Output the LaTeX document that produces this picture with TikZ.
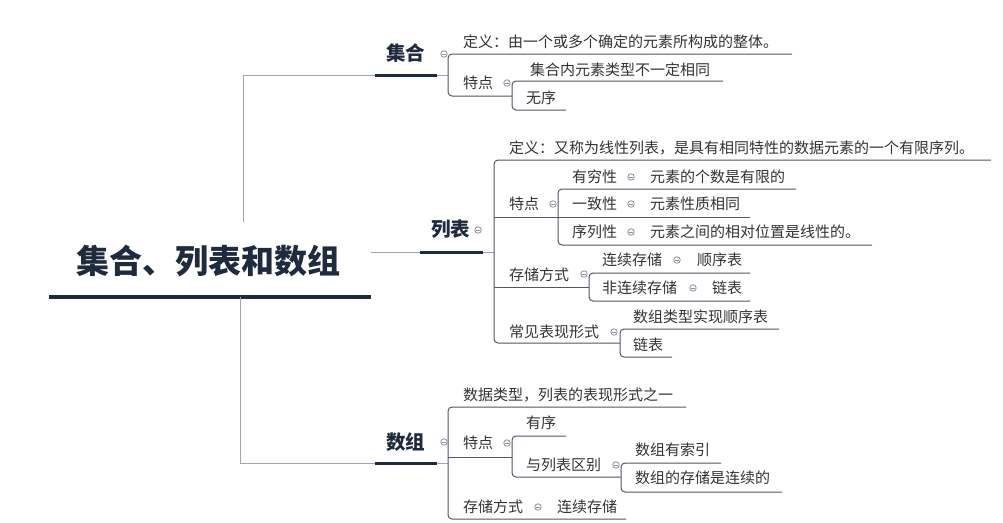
\documentclass[tikz,border=0pt]{standalone}
\usepackage{fontspec}
\newfontfamily\cjk{Noto Sans CJK SC}
\definecolor{navy}{HTML}{1F2A3F}
\definecolor{leaf}{HTML}{333333}
\definecolor{rootln}{HTML}{A0A6B1}
\definecolor{childln}{HTML}{4F5666}
\definecolor{dotc}{HTML}{8A909C}
\tikzset{
  roottxt/.style={anchor=west,inner sep=0pt,text=navy,font=\cjk\bfseries\fontsize{33}{36}\selectfont},
  maintxt/.style={anchor=west,inner sep=0pt,text=navy,font=\cjk\bfseries\fontsize{19.5}{22}\selectfont},
  leaftxt/.style={anchor=west,inner sep=0pt,text=leaf,font=\cjk\fontsize{15}{18}\selectfont},
  rootconn/.style={draw=rootln,line width=1pt},
  thickline/.style={draw=navy,line width=3pt},
  childconn/.style={draw=childln,line width=1pt,rounded corners=4pt},
  collapse/.style={circle,draw=dotc,fill=white,line width=0.8pt,minimum size=6.5pt,inner sep=0pt,
    path picture={\draw[dotc,line width=0.6pt]([xshift=-1.7pt]path picture bounding box.center)--([xshift=1.7pt]path picture bounding box.center);}}
}
\begin{document}
\begin{tikzpicture}[x=1pt,y=-1pt]
\useasboundingbox (0,0) rectangle (1003,522);
% root
\node[roottxt] (root) at (76,261) {集合、列表和数组};
\draw[navy,line width=3.5pt] (49,297) -- (371,297);
% root connectors
\draw[rootconn] (243,222) -- (243,75) -- (375,75);
\draw[rootconn] (371,252) -- (420,252);
\draw[rootconn] (240,297) -- (240,463) -- (375,463);
% level 1
\node[maintxt] (jihe) at (386,53) {集合};
\node[maintxt] (liebiao) at (431,229) {列表};
\node[maintxt] (shuzu) at (386,442) {数组};
\draw[thickline] (375,75) -- (437,75);
\draw[thickline] (420,252) -- (483,252);
\draw[thickline] (375,463) -- (437,463);
\draw[rootconn] (437,75) -- (448,75);
\draw[rootconn] (483,252) -- (494,252);
\draw[rootconn] (437,463) -- (448,463);

% ---------- 集合 ----------
\draw[childconn] (792,54) -- (448,54) -- (448,96) -- (512,96);
\draw[childconn] (723,81) -- (512,81) -- (512,110) -- (566,110);
\node[leaftxt] (jd) at (463,42) {定义：由一个或多个确定的元素所构成的整体。};
\node[leaftxt] (jt) at (463,83) {特点};
\node[leaftxt] (jt1) at (530,70) {集合内元素类型不一定相同};
\node[leaftxt] (jt2) at (526,98) {无序};
\node[collapse] (cj) at (444,54) {};
\node[collapse] (cjt) at (507,83) {};

% ---------- 列表 ----------
\draw[childconn] (991,160) -- (494,160) -- (494,343) -- (620,343);
\draw[childconn] (494,217) -- (558,217);
\draw[childconn] (494,287) -- (589,287);
\draw[childconn] (796,189) -- (558,189) -- (558,245) -- (872,245);
\draw[childconn] (558,217) -- (750,217);
\draw[childconn] (750,273) -- (589,273) -- (589,301) -- (750,301);
\draw[childconn] (779,329) -- (620,329) -- (620,357) -- (672,357);
\node[leaftxt] (ld) at (509,148) {定义：又称为线性列表，是具有相同特性的数据元素的一个有限序列。};
\node[leaftxt] (lt) at (509,204) {特点};
\node[leaftxt] (lt1) at (572,177) {有穷性};
\node[leaftxt] (lt1a) at (650,177) {元素的个数是有限的};
\node[leaftxt] (lt2) at (572,204) {一致性};
\node[leaftxt] (lt2a) at (650,204) {元素性质相同};
\node[leaftxt] (lt3) at (572,232) {序列性};
\node[leaftxt] (lt3a) at (650,232) {元素之间的相对位置是线性的。};
\node[leaftxt] (ls) at (509,275) {存储方式};
\node[leaftxt] (ls1) at (602,260) {连续存储};
\node[leaftxt] (ls1a) at (697,260) {顺序表};
\node[leaftxt] (ls2) at (602,288) {非连续存储};
\node[leaftxt] (ls2a) at (712,288) {链表};
\node[leaftxt] (lc) at (509,332) {常见表现形式};
\node[leaftxt] (lc1) at (633,317) {数组类型实现顺序表};
\node[leaftxt] (lc2) at (633,345) {链表};
\node[collapse] (cl) at (478,230) {};
\node[collapse] (clt) at (553,204) {};
\node[collapse] (clt1) at (631,177) {};
\node[collapse] (clt2) at (631,204) {};
\node[collapse] (clt3) at (631,232) {};
\node[collapse] (cls) at (584,274) {};
\node[collapse] (cls1) at (677,260) {};
\node[collapse] (cls2) at (693,288) {};
\node[collapse] (clc) at (614,332) {};

% ---------- 数组 ----------
\draw[childconn] (686,407) -- (448,407) -- (448,519) -- (626,519);
\draw[childconn] (448,457) -- (512,457);
\draw[childconn] (566,436) -- (512,436) -- (512,477) -- (621,477);
\draw[childconn] (721,463) -- (621,463) -- (621,492) -- (782,492);
\node[leaftxt] (sd) at (463,395) {数据类型，列表的表现形式之一};
\node[leaftxt] (st) at (463,443) {特点};
\node[leaftxt] (st1) at (526,423) {有序};
\node[leaftxt] (st2) at (526,465) {与列表区别};
\node[leaftxt] (st2a) at (635,450) {数组有索引};
\node[leaftxt] (st2b) at (635,478) {数组的存储是连续的};
\node[leaftxt] (ss) at (463,507) {存储方式};
\node[leaftxt] (ss1) at (557,507) {连续存储};
\node[collapse] (cs) at (444,442) {};
\node[collapse] (cst) at (507,443) {};
\node[collapse] (cst2) at (616,465) {};
\node[collapse] (css) at (538,507) {};
\end{tikzpicture}
\end{document}
